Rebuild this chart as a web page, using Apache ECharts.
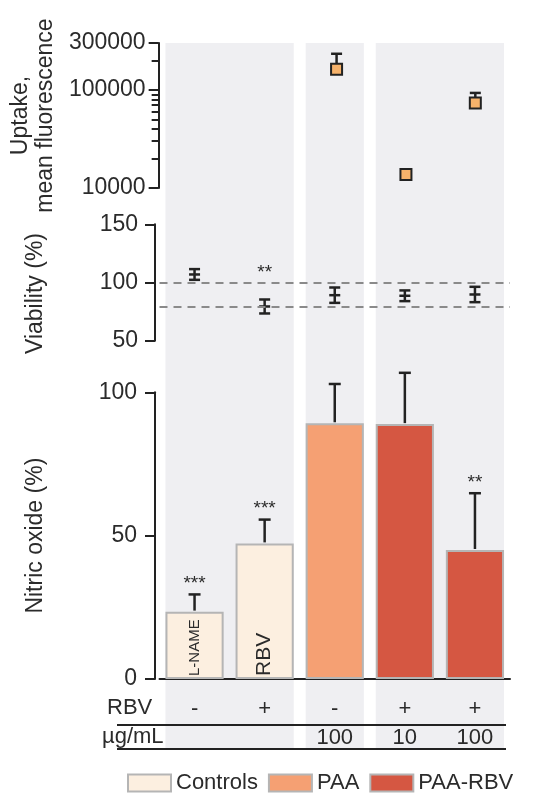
<!DOCTYPE html>
<html><head><meta charset="utf-8">
<script src="https://cdn.jsdelivr.net/npm/echarts@6/dist/echarts.min.js"></script>
<style>html,body{margin:0;padding:0;background:#fff}#c{width:549px;height:793px}</style>
</head><body><div id="c"></div>
<script>
// ---------- data ----------
const categories = ['L-NAME', 'RBV', 'PAA 100', 'PAA-RBV 10', 'PAA-RBV 100'];
const barInnerLabels = ['L-NAME', 'RBV', '', '', ''];
const groups = ['Controls', 'PAA', 'PAA-RBV'];
const groupOfCategory = [0, 0, 1, 2, 2];
const bandSpans = [[0, 1], [2, 2], [3, 4]];

const uptakeMean = [null, null, 162000, 13700, 73600];
const uptakeUpper = [null, null, 233000, null, 93000];
const uptakeLabelTicks = [10000, 100000, 300000];
const uptakeMinorTicks = [20000, 30000, 40000, 50000, 60000, 70000, 80000, 90000, 200000];

const viabilityMean = [106.9, 79.4, 89.1, 88.6, 89.7];
const viabilityErr = [4.6, 6.0, 6.6, 4.6, 6.6];
const viabilityStars = ['', '**', '', '', ''];
const viabilityRefLines = [100, 79.5];
const viabilityTicks = [50, 100, 150];

const nitricMean = [23.5, 47.3, 89.2, 88.9, 45.0];
const nitricUpper = [29.5, 55.6, 102.9, 106.8, 64.8];
const nitricStars = ['***', '***', '', '', '**'];
const nitricTicks = [0, 50, 100];

const rbvRow = ['-', '+', '-', '+', '+'];
const doseRow = ['', '', '100', '10', '100'];
const rowLabels = ['RBV', 'µg/mL'];

// ---------- style ----------
const FONT = '"Liberation Sans", Arial, Helvetica, sans-serif';
const INK = '#222222';
const TXT = '#2b2b2b';
const groupColors = ['#fcefe0', '#f5a073', '#d55742'];
const BAND = '#efeff2';
const BAR_FRAC = 0.83;
const GL = 159.5, GW = 350.5;
const inBarFont = { 'L-NAME': 15, 'RBV': 21 };

function capLine(x, y, hw) {
  return { type: 'line', shape: { x1: x - hw, y1: y, x2: x + hw, y2: y }, style: { stroke: INK, lineWidth: 2.5 } };
}
function vLine(x, y1, y2) {
  return { type: 'line', shape: { x1: x, y1: y1, x2: x, y2: y2 }, style: { stroke: INK, lineWidth: 2.5 } };
}
function starText(x, y, txt) {
  return { type: 'text', x: x, y: y, style: { text: txt, fill: TXT, fontSize: 19, fontFamily: FONT, align: 'center', verticalAlign: 'bottom' } };
}

const hiddenX = (g) => ({ type: 'category', gridIndex: g, data: categories, show: false });

const yBase = (g, extra) => Object.assign({
  gridIndex: g, offset: 4.5, position: 'left',
  axisLine: { show: true, lineStyle: { color: INK, width: 2 } },
  axisTick: { show: true, length: 10, lineStyle: { color: INK, width: 2 } },
  axisLabel: { fontSize: 23, color: TXT, fontFamily: FONT },
  splitLine: { show: false },
  nameLocation: 'middle', nameRotate: 90,
  nameTextStyle: { fontSize: 23, color: TXT, fontFamily: FONT }
}, extra);

const option = {
  animation: false,
  backgroundColor: '#ffffff',
  grid: [
    { left: GL, width: GW, top: 43, height: 705 },
    { left: GL, width: GW, top: 43, height: 145 },
    { left: GL, width: GW, top: 224.3, height: 116.4 },
    { left: GL, width: GW, top: 392.3, height: 286.7 }
  ],
  xAxis: [
    hiddenX(0), hiddenX(1), hiddenX(2),
    { type: 'category', gridIndex: 3, data: categories,
      axisLine: { show: true, lineStyle: { color: INK, width: 2 } },
      axisTick: { show: false }, axisLabel: { show: false } },
    { type: 'category', gridIndex: 3, data: categories, position: 'bottom', offset: 30,
      axisLine: { show: false }, axisTick: { show: false },
      axisLabel: { margin: 0, verticalAlign: 'middle', fontSize: 22, color: TXT, fontFamily: FONT, interval: 0,
        formatter: (v, i) => rbvRow[i] } },
    { type: 'category', gridIndex: 3, data: categories, position: 'bottom', offset: 59,
      axisLine: { show: false }, axisTick: { show: false },
      axisLabel: { margin: 0, verticalAlign: 'middle', fontSize: 22, color: TXT, fontFamily: FONT, interval: 0,
        formatter: (v, i) => doseRow[i] } }
  ],
  yAxis: [
    { type: 'value', gridIndex: 0, min: 0, max: 1, show: false },
    yBase(1, { type: 'log', logBase: 10, min: uptakeLabelTicks[0], max: uptakeLabelTicks[uptakeLabelTicks.length - 1],
      name: 'Uptake,\nmean fluorescence', nameGap: 93,
      nameTextStyle: { fontSize: 23, color: TXT, fontFamily: FONT, lineHeight: 25 },
      axisTick: { show: true, length: 10, lineStyle: { color: INK, width: 2 }, customValues: uptakeLabelTicks },
      axisLabel: { fontSize: 23, color: TXT, fontFamily: FONT, margin: 13, customValues: uptakeLabelTicks,
        formatter: v => String(Math.round(v)) } }),
    yBase(1, { type: 'log', logBase: 10, min: uptakeLabelTicks[0], max: uptakeLabelTicks[uptakeLabelTicks.length - 1],
      axisLine: { show: false },
      axisTick: { show: true, length: 7, lineStyle: { color: INK, width: 2 }, customValues: uptakeMinorTicks },
      axisLabel: { show: false } }),
    yBase(2, { type: 'value', min: viabilityTicks[0], max: viabilityTicks[viabilityTicks.length - 1], interval: 50,
      name: 'Viability (%)', nameGap: 108,
      nameTextStyle: { fontSize: 23, color: TXT, fontFamily: FONT, padding: [0, 22, 0, 0] },
      axisLabel: { fontSize: 23, color: TXT, fontFamily: FONT, margin: 17 } }),
    yBase(3, { type: 'value', min: nitricTicks[0], max: nitricTicks[nitricTicks.length - 1], interval: 50,
      name: 'Nitric oxide (%)', nameGap: 108,
      axisLabel: { fontSize: 23, color: TXT, fontFamily: FONT, margin: 18 } })
  ],
  legend: {
    data: groups, left: 122, top: 767, itemWidth: 43, itemHeight: 17, itemGap: 10, icon: 'rect',
    selectedMode: false, textStyle: { fontSize: 22, color: TXT, fontFamily: FONT }
  },
  graphic: [
    { type: 'text', left: 107, top: 697, z: 100, style: { text: rowLabels[0], fontSize: 22, fill: TXT, fontFamily: FONT } },
    { type: 'text', left: 102, top: 726, z: 100, style: { text: rowLabels[1], fontSize: 22, fill: TXT, fontFamily: FONT } },
    { type: 'line', z: 100, shape: { x1: 117, y1: 725, x2: 506, y2: 725 }, style: { stroke: INK, lineWidth: 2 } },
    { type: 'line', z: 100, shape: { x1: 117, y1: 749, x2: 506, y2: 749 }, style: { stroke: INK, lineWidth: 2 } }
  ],
  series: []
};

// background bands
option.series.push({
  type: 'custom', xAxisIndex: 0, yAxisIndex: 0, z: 0, silent: true,
  data: bandSpans,
  renderItem(params, api) {
    const s = api.value(0), e = api.value(1);
    const bw = api.size([1, 0])[0] * BAR_FRAC;
    const x0 = api.coord([s, 0])[0] - bw / 2;
    const x1 = api.coord([e, 0])[0] + bw / 2;
    const cs = params.coordSys;
    return { type: 'rect', shape: { x: x0, y: cs.y, width: x1 - x0, height: cs.height }, style: { fill: BAND } };
  }
});

// uptake error bars
option.series.push({
  type: 'custom', xAxisIndex: 1, yAxisIndex: 1, z: 3, silent: true,
  data: uptakeMean.map((m, i) => [i, m, uptakeUpper[i]]).filter(d => d[1] != null && d[2] != null),
  renderItem(params, api) {
    const top = api.coord([api.value(0), api.value(2)]);
    const mid = api.coord([api.value(0), api.value(1)]);
    return { type: 'group', children: [vLine(top[0], top[1], mid[1]), capLine(top[0], top[1], 5.5)] };
  }
});
// uptake points
option.series.push({
  type: 'scatter', xAxisIndex: 1, yAxisIndex: 1, z: 4, silent: true,
  symbol: 'rect', symbolSize: 11,
  itemStyle: { color: '#f6b26b', borderColor: INK, borderWidth: 2, opacity: 1 },
  data: uptakeMean.map((m, i) => m == null ? [i, '-'] : [i, m])
});

// viability reference lines (carrier series)
option.series.push({
  type: 'scatter', xAxisIndex: 2, yAxisIndex: 3, symbolSize: 0, silent: true,
  data: viabilityMean.map((m, i) => [i, m]),
  markLine: {
    silent: true, symbol: ['none', 'none'], label: { show: false },
    lineStyle: { color: '#8a8a8a', type: [8, 6], width: 2 },
    data: viabilityRefLines.map(v => ({ yAxis: v }))
  }
});
// viability error bars
option.series.push({
  type: 'custom', xAxisIndex: 2, yAxisIndex: 3, z: 4, silent: true,
  data: viabilityMean.map((m, i) => [i, m, viabilityErr[i]]),
  renderItem(params, api) {
    const i = api.value(0), m = api.value(1), e = api.value(2);
    const hi = api.coord([i, m + e]), lo = api.coord([i, m - e]), c = api.coord([i, m]);
    const ch = [vLine(c[0], hi[1], lo[1]), capLine(c[0], hi[1], 5.5), capLine(c[0], lo[1], 5.5), capLine(c[0], c[1], 5.5)];
    const st = viabilityStars[params.dataIndex];
    if (st) ch.push(starText(c[0], hi[1] - 17, st));
    return { type: 'group', children: ch };
  }
});

// nitric oxide bars
groups.forEach((g, gi) => {
  option.series.push({
    name: g, type: 'bar', xAxisIndex: 3, yAxisIndex: 4, stack: 'no', barWidth: (BAR_FRAC * 100) + '%', z: 2,
    itemStyle: { color: groupColors[gi], borderColor: '#b5b5b5', borderWidth: 2 },
    data: nitricMean.map((v, i) => groupOfCategory[i] === gi ? v : '-')
  });
});
// nitric error bars + stars
option.series.push({
  type: 'custom', xAxisIndex: 3, yAxisIndex: 4, z: 5, silent: true,
  data: nitricMean.map((m, i) => [i, m, nitricUpper[i]]),
  renderItem(params, api) {
    const i = api.value(0);
    const top = api.coord([i, api.value(2)]), base = api.coord([i, api.value(1)]);
    const ch = [vLine(top[0], top[1], base[1] - 1), capLine(top[0], top[1], 6)];
    const st = nitricStars[params.dataIndex];
    if (st) ch.push(starText(top[0], top[1] - 1, st));
    return { type: 'group', children: ch };
  }
});
// in-bar rotated labels
option.series.push({
  type: 'custom', xAxisIndex: 3, yAxisIndex: 4, z: 6, silent: true,
  data: barInnerLabels.map((t, i) => [i, 0]),
  renderItem(params, api) {
    const t = barInnerLabels[params.dataIndex];
    if (!t) return null;
    const p = api.coord([api.value(0), 0]);
    return { type: 'text', x: p[0], y: p[1] - 3, rotation: Math.PI / 2,
      style: { text: t, fill: TXT, fontSize: inBarFont[t] || 16, fontFamily: FONT, align: 'left', verticalAlign: 'middle' } };
  }
});

const chart = echarts.init(document.getElementById('c'), null, { renderer: 'canvas' });
chart.setOption(option);
</script></body></html>
